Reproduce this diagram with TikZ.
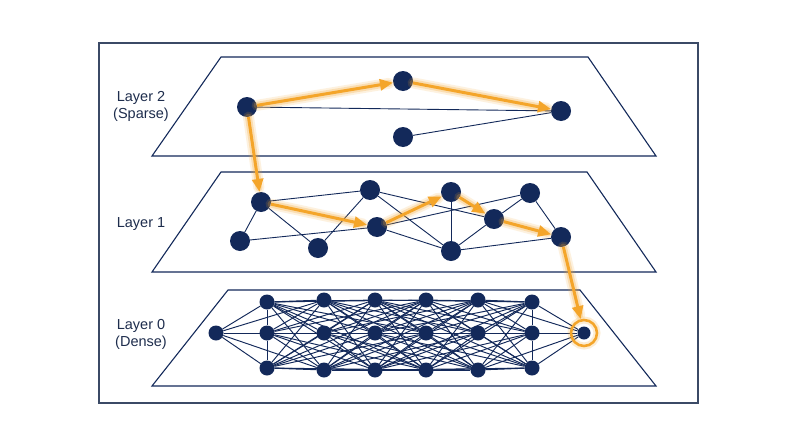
\documentclass[tikz,border=0pt]{standalone}
\usepackage{fontspec}
\setmainfont{Liberation Sans}
\usetikzlibrary{arrows.meta}
\definecolor{navy}{HTML}{13295A}
\definecolor{framec}{HTML}{3B4A66}
\definecolor{orng}{HTML}{F4A52A}
\definecolor{txt}{HTML}{1E2D4D}
\begin{document}
\begin{tikzpicture}[x=1pt,y=-1pt,
  nd/.style={circle,fill=navy,inner sep=0pt,minimum size=20pt},
  sn/.style={circle,fill=navy,inner sep=0pt,minimum size=15pt},
  edge/.style={draw=navy,line width=0.9pt},
  dedge/.style={draw=navy,line width=0.95pt},
  plane/.style={draw=navy,line width=1.1pt,line join=miter},
  frm/.style={draw=framec,line width=1.6pt},
  glowa/.style={draw=orng,line width=11pt,opacity=0.15,line cap=round},
  glowb/.style={draw=orng,line width=7pt,opacity=0.25,line cap=round},
  hop/.style={draw=orng,line width=3pt,-{Triangle[length=13pt,width=11pt]}},
  lbl/.style={font=\fontsize{14.5}{17}\selectfont,text=txt,align=center}
]
\useasboundingbox (0,0) rectangle (800,447);
\fill[white] (0,0) rectangle (800,447);
\draw[frm] (99,43) rectangle (698,403);

% planes
\draw[plane] (221,57) -- (588,57) -- (656,156) -- (152,156) -- cycle;
\draw[plane] (221,172) -- (587,172) -- (656,272) -- (152,272) -- cycle;
\draw[plane] (228,290) -- (580,290) -- (656,386) -- (152,386) -- cycle;

% labels
\node[lbl] (l2) at (141,106) {Layer 2\\(Sparse)};
\node[lbl] (l1) at (141,224) {Layer 1};
\node[lbl] (l0) at (141,334) {Layer 0\\(Dense)};

% layer 2 nodes
\node[nd] (a2) at (247,107) {};
\node[nd] (b2) at (403,81) {};
\node[nd] (c2) at (561,111) {};
\node[nd] (d2) at (403,137) {};
\draw[edge] (a2) -- (c2);
\draw[edge] (d2) -- (c2);

% layer 1 nodes
\node[nd] (a1) at (261,202) {};
\node[nd] (b1) at (370,190) {};
\node[nd] (c1) at (451,192) {};
\node[nd] (d1) at (530,193) {};
\node[nd] (e1) at (240,241) {};
\node[nd] (f1) at (318,248) {};
\node[nd] (g1) at (377,227) {};
\node[nd] (h1) at (494,219) {};
\node[nd] (i1) at (451,251) {};
\node[nd] (j1) at (561,237) {};
\draw[edge] (a1) -- (b1);
\draw[edge] (a1) -- (e1);
\draw[edge] (a1) -- (f1);
\draw[edge] (e1) -- (g1);
\draw[edge] (f1) -- (b1);
\draw[edge] (b1) -- (i1);
\draw[edge] (b1) -- (h1);
\draw[edge] (g1) -- (d1);
\draw[edge] (g1) -- (i1);
\draw[edge] (c1) -- (i1);
\draw[edge] (h1) -- (d1);
\draw[edge] (h1) -- (i1);
\draw[edge] (d1) -- (j1);
\draw[edge] (i1) -- (j1);

% layer 0 nodes
\node[sn] (z0) at (216,333) {};
\foreach \i/\x/\t/\b in {1/267/302/368,2/324/300/370,3/375/300/370,4/426/300/370,5/478/300/370,6/532/302/368}{
  \node[sn] (z\i t) at (\x,\t) {};
  \node[sn] (z\i m) at (\x,333) {};
  \node[sn] (z\i b) at (\x,\b) {};
}
\node[circle,fill=navy,inner sep=0pt,minimum size=13pt] (z7) at (584,333) {};
\foreach \r in {t,m,b}{
  \draw[dedge] (z0) -- (z1\r);
  \draw[dedge] (z0) -- (z2\r);
  \draw[dedge] (z6\r) -- (z7);
  \draw[dedge] (z5\r) -- (z7);
}
\foreach \i/\j in {1/2,2/3,3/4,4/5,5/6,1/3,2/4,3/5,4/6,1/4,2/5,3/6}{
  \foreach \r in {t,m,b}{
    \foreach \s in {t,m,b}{
      \draw[dedge] (z\i\r) -- (z\j\s);
    }
  }
}
\draw[dedge] (z1t) -- (z1m) -- (z1b);
\draw[dedge] (z6t) -- (z6m) -- (z6b);

% target ring
\node[circle,draw=orng,line width=7pt,opacity=0.2,minimum size=26pt,inner sep=0pt] (ringg) at (z7) {};
\node[circle,draw=orng,line width=2.6pt,minimum size=26pt,inner sep=0pt] (ring) at (z7) {};

% search path glow
\foreach \p/\q in {a2/b2,b2/c2,a2/a1,a1/g1,g1/c1,c1/h1,h1/j1,j1/ring}{
  \draw[glowa,shorten >=4pt] (\p) -- (\q);
  \draw[glowb,shorten >=4pt] (\p) -- (\q);
}
% search path
\foreach \p/\q in {a2/b2,b2/c2,a2/a1,a1/g1,g1/c1,c1/h1,h1/j1,j1/ring}{
  \draw[hop] (\p) -- (\q);
}
\end{tikzpicture}
\end{document}
